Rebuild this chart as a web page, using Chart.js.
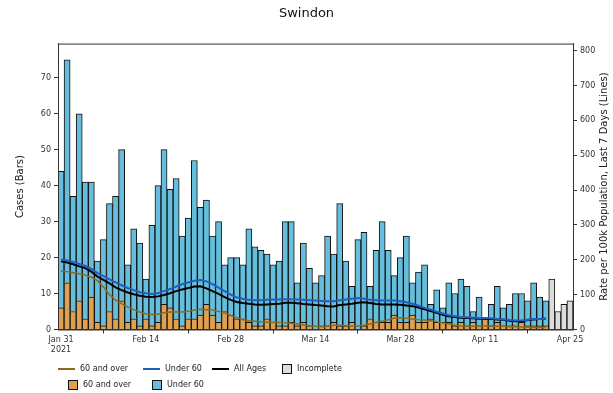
<!DOCTYPE html>
<html>
<head>
<meta charset="utf-8">
<script src="https://cdn.jsdelivr.net/npm/chart.js@4.4.0/dist/chart.umd.min.js"></script>
<style>
html, body { margin: 0; padding: 0; background: #fff; }
#wrap { position: relative; width: 613px; height: 393px; }
#legend { position: absolute; left: 0; top: 0; width: 613px; height: 393px; pointer-events: none;
  font-family: 'DejaVu Sans', sans-serif; font-size: 8px; color: #222; }
.item { position: absolute; height: 10px; line-height: 10px; white-space: nowrap; }
.sw { position: absolute; }
</style>
</head>
<body>
<div id="wrap">
  <canvas id="chart" width="613" height="393"></canvas>
  <div id="legend"></div>
</div>
<script>
// daily cases, Jan 31 - Apr 21 2021 (complete days)
const over60 = [6, 13, 5, 8, 3, 9, 2, 1, 5, 3, 8, 2, 3, 1, 3, 1, 2, 7, 6, 3,
  1, 3, 3, 4, 7, 4, 2, 5, 4, 3, 3, 2, 1, 1, 3, 2, 1, 1, 2, 1,
  2, 1, 0, 1, 1, 2, 1, 1, 2, 0, 1, 3, 2, 2, 2, 4, 2, 2, 4, 2,
  2, 3, 2, 2, 2, 1, 2, 1, 2, 1, 3, 1, 2, 1, 1, 1, 2, 1, 1, 1, 1];
const under60 = [38, 62, 32, 52, 38, 32, 17, 24, 30, 34, 42, 16, 25, 23, 11, 28, 38, 43, 33, 39,
  25, 28, 44, 30, 29, 22, 28, 13, 16, 17, 15, 26, 22, 21, 18, 16, 18, 29, 28, 12,
  22, 16, 13, 14, 25, 19, 34, 18, 10, 25, 26, 9, 20, 28, 20, 11, 18, 24, 9, 14,
  16, 4, 9, 4, 11, 9, 12, 11, 3, 8, 0, 6, 10, 5, 6, 9, 8, 7, 12, 8, 7];
// Apr 22 - Apr 25, incomplete
const incomplete = [14, 5, 7, 8];

// rate per 100k, last 7 days
const rate60 = [167, 166, 163, 160, 156, 150, 140, 122, 100, 84, 74, 64, 57, 50, 45, 43, 44, 48, 50, 50,
  50, 52, 56, 58, 57, 56, 52, 47, 40, 34, 28, 25, 24, 22, 21, 20, 20, 19, 18, 16,
  13, 10, 9, 8, 9, 12, 12, 11, 10, 10, 12, 16, 20, 24, 28, 33, 34, 32, 30, 28,
  27, 25, 22, 19, 16, 12, 10, 9, 9, 9, 10, 10, 9, 9, 8, 8, 7, 7, 6, 6, 6];
const rateUnder60 = [201, 198, 194, 188, 182, 174, 162, 153, 144, 135, 127, 119, 113, 107, 104, 102, 104, 110, 116, 123,
  130, 135, 140, 142, 138, 130, 120, 110, 100, 92, 88, 85, 84, 84, 85, 86, 86, 87, 87, 86,
  85, 84, 83, 82, 81, 81, 84, 86, 88, 90, 88, 85, 84, 83, 83, 83, 81, 78, 74, 68,
  62, 57, 51, 46, 41, 38, 36, 35, 34, 33, 33, 32, 30, 29, 27, 26, 26, 28, 30, 30, 31];
const rateAll = [196, 192, 187, 181, 176, 166, 152, 142, 132, 121, 113, 106, 101, 97, 94, 93, 95, 99, 104, 110,
  115, 119, 123, 124, 118, 110, 102, 93, 85, 79, 76, 74, 72, 71, 72, 73, 74, 77, 77, 75,
  73, 72, 70, 69, 67, 66, 70, 72, 74, 77, 78, 76, 73, 72, 72, 72, 71, 69, 67, 63,
  58, 53, 48, 42, 38, 36, 34, 33, 32, 31, 31, 30, 29, 28, 25, 24, 24, 27, 29, 30, 31];

const tickLabels = [['Jan 31', '2021'], 'Feb 14', 'Feb 28', 'Mar 14', 'Mar 28', 'Apr 11', 'Apr 25'];
const tickEvery = 14;

const colOver = '#DFA052';
const colUnder = '#64BEDC';
const colIncomplete = '#DCDCDC';
const colLineOver = '#8A6A1E';
const colLineUnder = '#1F5FBF';
const colLineAll = '#000000';

const nDays = over60.length + incomplete.length;
const labels = [];
for (let i = 0; i < nDays; i++) {
  const d = new Date(2021, 0, 31 + i);
  labels.push(d.toDateString());
}
const pad = (arr) => arr.concat(new Array(nDays - arr.length).fill(null));
const padFront = (arr) => new Array(nDays - arr.length).fill(null).concat(arr);

const tickFont = { family: 'DejaVu Sans', size: 8 };

const boxPlugin = {
  id: 'box',
  afterDraw(chart) {
    const { ctx, chartArea: a } = chart;
    ctx.save();
    ctx.strokeStyle = '#333';
    ctx.lineWidth = 1;
    ctx.strokeRect(a.left + 0.5, a.top + 0.5, a.right - a.left, a.bottom - a.top);
    // right axis title, reading upward
    ctx.translate(604, (a.top + a.bottom) / 2);
    ctx.rotate(-Math.PI / 2);
    ctx.fillStyle = '#222';
    ctx.font = '10px "DejaVu Sans"';
    ctx.textAlign = 'center';
    ctx.textBaseline = 'middle';
    ctx.fillText('Rate per 100k Population, Last 7 Days (Lines)', 0, 0);
    ctx.restore();
  }
};

new Chart(document.getElementById('chart'), {
  type: 'bar',
  data: {
    labels: labels,
    datasets: [
      { label: '60 and over', data: pad(over60), backgroundColor: colOver, borderColor: '#111', borderWidth: 1, order: 2 },
      { label: 'Under 60', data: pad(under60), backgroundColor: colUnder, borderColor: '#111', borderWidth: 1, order: 2 },
      { label: 'Incomplete', data: padFront(incomplete), backgroundColor: colIncomplete, borderColor: '#111', borderWidth: 1, order: 2 },
      { type: 'line', label: '60 and over', data: pad(rate60), yAxisID: 'y1', borderColor: colLineOver, borderWidth: 1.5, pointRadius: 0, tension: 0, order: 0 },
      { type: 'line', label: 'Under 60', data: pad(rateUnder60), yAxisID: 'y1', borderColor: colLineUnder, borderWidth: 2, pointRadius: 0, tension: 0, order: 0 },
      { type: 'line', label: 'All Ages', data: pad(rateAll), yAxisID: 'y1', borderColor: colLineAll, borderWidth: 2, pointRadius: 0, tension: 0, order: 0 }
    ]
  },
  options: {
    responsive: false,
    animation: false,
    layout: { padding: { top: 0, left: 0, right: 0, bottom: 0 } },
    datasets: { bar: { barPercentage: 1, categoryPercentage: 1 } },
    plugins: {
      legend: { display: false },
      tooltip: { enabled: false },
      title: {
        display: true,
        text: 'Swindon',
        color: '#111',
        font: { family: 'DejaVu Sans', size: 13, weight: 'normal' },
        padding: { top: 6, bottom: 22 }
      }
    },
    scales: {
      x: {
        stacked: true,
        offset: true,
        grid: { display: true, drawOnChartArea: false, tickLength: 4, color: '#333' },
        border: { display: true, color: '#333' },
        ticks: {
          autoSkip: false, maxRotation: 0, minRotation: 0, padding: 2,
          font: tickFont, color: '#333',
          callback: (v, i) => (i % tickEvery === 0 ? tickLabels[i / tickEvery] : null)
        },
        afterFit: (s) => { s.height = 63.5; }
      },
      y: {
        stacked: true,
        min: 0, max: 79.5,
        grid: { drawOnChartArea: false, tickLength: 4, color: '#333' },
        border: { display: true, color: '#333' },
        ticks: { stepSize: 10, includeBounds: false, font: tickFont, color: '#333', padding: 3 },
        title: { display: true, text: 'Cases (Bars)', color: '#222', font: { family: 'DejaVu Sans', size: 10 }, padding: { top: 14.6, bottom: 0 } },
        afterFit: (s) => { s.width = 58; }
      },
      y1: {
        position: 'right',
        min: 0, max: 820,
        grid: { drawOnChartArea: false, tickLength: 4, color: '#333' },
        border: { display: true, color: '#333' },
        ticks: { stepSize: 100, includeBounds: false, font: tickFont, color: '#333', padding: 3 },
        afterFit: (s) => { s.width = 40; }
      }
    }
  },
  plugins: [boxPlugin]
});

// legend below the chart, two rows like the original
const legendItems = [
  { kind: 'line', color: colLineOver, text: '60 and over', x: 58, y: 369 },
  { kind: 'line', color: colLineUnder, text: 'Under 60', x: 143, y: 369 },
  { kind: 'line', color: colLineAll, text: 'All Ages', x: 212, y: 369 },
  { kind: 'box', color: colIncomplete, text: 'Incomplete', x: 282, y: 369 },
  { kind: 'box', color: colOver, text: '60 and over', x: 68, y: 385 },
  { kind: 'box', color: colUnder, text: 'Under 60', x: 152, y: 385 }
];
const legend = document.getElementById('legend');
legendItems.forEach((it) => {
  const el = document.createElement('div');
  el.className = 'item';
  el.style.left = it.x + 'px';
  el.style.top = (it.y - 5) + 'px';
  const sw = document.createElement('div');
  sw.className = 'sw';
  if (it.kind === 'line') {
    Object.assign(sw.style, { left: '0px', top: '4px', width: '17px', height: '2px', background: it.color });
  } else {
    Object.assign(sw.style, { left: '0px', top: '0px', width: '8px', height: '8px', background: it.color, border: '1px solid #111' });
  }
  const tx = document.createElement('span');
  tx.textContent = it.text;
  tx.style.position = 'absolute';
  tx.style.left = (it.kind === 'line' ? 22 : 15) + 'px';
  tx.style.top = '0px';
  el.appendChild(sw);
  el.appendChild(tx);
  legend.appendChild(el);
});
</script>
</body>
</html>
